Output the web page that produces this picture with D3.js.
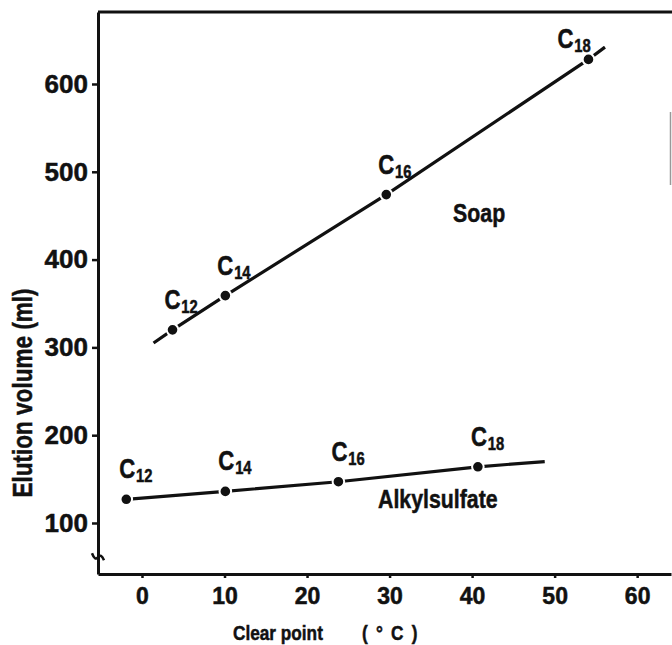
<!DOCTYPE html>
<html>
<head>
<meta charset="utf-8">
<style>
    body { margin: 0; background: #fff; }
    svg { display: block; }
    .axis .domain { stroke: #111; stroke-width: 3px; }
    .axis .tick line { stroke: #111; stroke-width: 2.5px; }
    .axis .tick text {
        font-family: "Liberation Sans", Arial, sans-serif;
        font-weight: bold;
        fill: #111;
        stroke: #111;
        stroke-width: 0.5px;
    }
    .y .tick text { font-size: 26px; }
    .x .tick text { font-size: 23px; }
    .narrow {
        font-family: "Liberation Sans", Arial, sans-serif;
        font-weight: bold;
        fill: #111;
        stroke: #111;
        stroke-width: 0.5px;
    }
</style>
</head>
<body>
<svg width="672" height="645"></svg>

<script src="https://d3js.org/d3.v7.min.js"></script>
<script>
    // chain lengths (subscripts)
    let carbons = ["12", "14", "16", "18"];

    // soap: clear point (°C) vs elution volume (ml)
    let soapClear = [3.7, 10.1, 29.6, 54.1];
    let soapVolume = [320, 359, 474, 628];
    let soapLineStart = [1.4, 305];
    let soapLineEnd = [56.1, 642];

    // alkylsulfate
    let alkylClear = [-1.9, 10.1, 23.8, 40.7];
    let alkylVolume = [127, 136, 147, 164];
    let alkylLineEnd = [48.8, 170];

    let xTicks = [0, 10, 20, 30, 40, 50, 60];
    let yTicks = [100, 200, 300, 400, 500, 600];

    let svg = d3.select("svg");
    let margin = { top: 12, right: 1, bottom: 71, left: 98 };
    let width = 672, height = 645;

    let x = d3.scaleLinear()
        .domain([-5.33, 64.1])
        .range([margin.left, width - margin.right]);

    let y = d3.scaleLinear()
        .domain([41.9, 682])
        .range([height - margin.bottom, margin.top]);

    // no narrow font installed, so squeeze Liberation Sans Bold instead
    function narrowText(px, py, size, str, extra) {
        let g = svg.append("g")
            .attr("transform", `translate(${px},${py}) ${extra || ""} scale(0.82,1)`);
        return g.append("text")
            .attr("class", "narrow")
            .style("font-size", size + "px")
            .text(str);
    }

    // frame top and a faint piece of the right edge
    svg.append("line")
        .attr("x1", x(-5.33)).attr("x2", width)
        .attr("y1", y(682)).attr("y2", y(682))
        .style("stroke", "#111").style("stroke-width", "3px");
    svg.append("line")
        .attr("x1", 670.5).attr("x2", 670.5)
        .attr("y1", 112).attr("y2", 185)
        .style("stroke", "#999").style("stroke-width", "1.5px");

    let xAxis = d3.axisBottom(x)
        .tickValues(xTicks)
        .tickSize(4)
        .tickSizeOuter(0)
        .tickPadding(10);

    let yAxis = d3.axisLeft(y)
        .tickValues(yTicks)
        .tickSize(6)
        .tickSizeOuter(0)
        .tickPadding(4);

    svg.append("g")
        .attr("class", "x axis")
        .attr("transform", `translate(0,${y(41.9)})`)
        .call(xAxis);

    svg.append("g")
        .attr("class", "y axis")
        .attr("transform", `translate(${x(-5.33)},0)`)
        .call(yAxis);

    // axis break mark
    let bx = x(-5.33), by = y(61);
    svg.append("path")
        .attr("d", `M${bx - 6},${by - 4} Q${bx - 3},${by + 4} ${bx},${by} Q${bx + 3},${by - 4} ${bx + 6},${by + 3}`)
        .style("fill", "none").style("stroke", "#111").style("stroke-width", "2.5px");

    // axis titles
    narrowText(32, 393, 27.5, "Elution volume (ml)", "rotate(-90)")
        .attr("text-anchor", "middle");

    narrowText(233, 640, 21, "Clear point");
    narrowText(362, 640, 21, "(°C)").style("letter-spacing", "10px");

    let line = d3.line()
        .x(d => x(d[0]))
        .y(d => y(d[1]));

    let soapPts = soapClear.map((c, i) => [c, soapVolume[i]]);
    let alkylPts = alkylClear.map((c, i) => [c, alkylVolume[i]]);

    svg.append("path")
        .attr("d", line([soapLineStart].concat(soapPts, [soapLineEnd])))
        .style("fill", "none").style("stroke", "#111").style("stroke-width", "3.2px");

    svg.append("path")
        .attr("d", line(alkylPts.concat([alkylLineEnd])))
        .style("fill", "none").style("stroke", "#111").style("stroke-width", "3.2px");

    // dots with a white rim so the line breaks around them
    svg.append("g")
        .selectAll("circle")
        .data(soapPts.concat(alkylPts))
        .join("circle")
        .attr("cx", d => x(d[0]))
        .attr("cy", d => y(d[1]))
        .attr("r", 5.8)
        .style("fill", "#111")
        .style("stroke", "#fff")
        .style("stroke-width", "2px");

    // C-number labels
    function addLabel(pt, sub, dx, dy) {
        let t = narrowText(x(pt[0]) + dx, y(pt[1]) + dy, 27, "C");
        t.append("tspan")
            .attr("dy", 4)
            .attr("dx", 1)
            .style("font-size", "18px")
            .text(sub);
    }

    soapPts.forEach((p, i) => {
        if (i == 3) addLabel(p, carbons[i], -31, -11);
        else addLabel(p, carbons[i], -8, -21);
    });
    alkylPts.forEach((p, i) => addLabel(p, carbons[i], -7, -21));

    // series names
    narrowText(x(37.7), y(443), 26, "Soap");
    narrowText(x(28.6), y(117), 26, "Alkylsulfate");
</script>
</body>
</html>
